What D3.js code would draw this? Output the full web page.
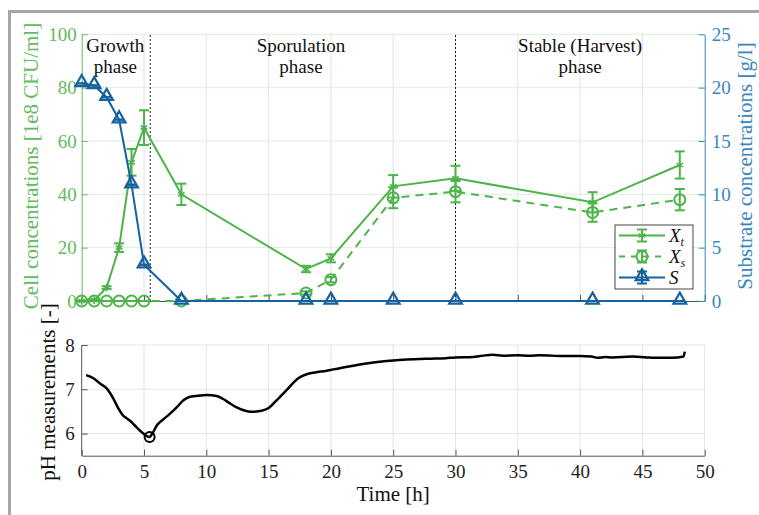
<!DOCTYPE html>
<html>
<head>
<meta charset="utf-8">
<script src="https://cdn.jsdelivr.net/npm/d3@7"></script>
<style>
  body { margin: 0; background: #fff; }
  svg { font-family: "Liberation Serif", "DejaVu Serif", serif; }
</style>
</head>
<body>
<svg id="chart" width="759" height="515"></svg>
<script>
// sampling times [h]
const time = [0, 1, 2, 3, 4, 5, 8, 18, 20, 25, 30, 41, 48];
// total cells Xt and spores Xs [1e8 CFU/ml]
const cellTotal = [0, 0.3, 5, 20, 52, 65, 40, 12, 16, 43, 46, 37, 51];
const cellTotalErr = [0, 0.2, 0.5, 1.6, 5, 6.5, 4, 1.2, 1.5, 4.2, 4.7, 3.8, 5.1];
const spores = [0, 0, 0, 0, 0, 0, 0, 3, 8, 38.7, 41, 33.2, 38];
const sporesErr = [0, 0, 0, 0, 0, 0, 0, 0.6, 1, 3.9, 4, 3.5, 4];
// substrate S [g/l]
const substrate = [20.4, 20.2, 19.1, 17, 10.9, 3.4, 0, 0, 0, 0, 0, 0, 0];
const substrateErr = [0, 0, 0, 0, 0, 0, 0, 0, 0, 0, 0, 0, 0];

// pH trace
const phTime = [0.35, 0.94, 1.47, 2.0, 2.54, 2.94, 3.34, 3.6, 3.88, 4.41, 4.95, 5.43, 5.75, 6.0, 6.55, 7.09,
  7.62, 8.16, 8.69, 9.49, 10.03, 10.83, 11.36, 11.9, 12.43, 13.2, 13.77, 14.3, 14.97, 15.64, 16.44, 17.38,
  18.05, 18.72, 19.65, 20.19, 20.99, 21.79, 22.86, 23.93, 25, 26.07, 27.94, 29.2, 30, 31.4, 32.2, 33.0,
  33.8, 35, 35.9, 36.8, 38.6, 40, 40.9, 41.4, 42, 42.6, 44.2, 45.3, 46.1, 47.4, 48.3, 48.4];
const phValue = [7.32, 7.25, 7.13, 7.02, 6.79, 6.57, 6.4, 6.35, 6.29, 6.14, 6.0, 5.92, 6.04, 6.17, 6.32, 6.45,
  6.59, 6.75, 6.83, 6.86, 6.87, 6.85, 6.78, 6.68, 6.59, 6.51, 6.49, 6.51, 6.57, 6.75, 6.98, 7.25,
  7.34, 7.38, 7.42, 7.45, 7.49, 7.53, 7.58, 7.62, 7.65, 7.67, 7.69, 7.7, 7.72, 7.73, 7.76, 7.78,
  7.76, 7.77, 7.76, 7.77, 7.75, 7.75, 7.74, 7.71, 7.73, 7.72, 7.74, 7.72, 7.71, 7.71, 7.74, 7.85];
const phMin = { t: 5.45, v: 5.92 };

const phases = [
  { x: 2.7, lines: ["Growth", "phase"] },
  { x: 17.6, lines: ["Sporulation", "phase"] },
  { x: 40.0, lines: ["Stable (Harvest)", "phase"] }
];
const phaseBounds = [5.5, 30];

const xTicks = [0, 5, 10, 15, 20, 25, 30, 35, 40, 45, 50];
const cellTicks = [0, 20, 40, 60, 80, 100];
const subTicks = [0, 5, 10, 15, 20, 25];
const phTicks = [6, 7, 8];

const green = "#4db34a";
const greenAxis = "#62bb5c";
const blue = "#15629f";
const blueAxis = "#3a86bf";
const axisGray = "#555";

const svg = d3.select("#chart");

// outer frame (top and left edge)
svg.append("path")
  .attr("d", "M9.5,520 L9.5,11.5 L770,11.5")
  .attr("fill", "none").attr("stroke", "#a6a6a6").attr("stroke-width", 3);

const x = d3.scaleLinear().domain([0, 50]).range([81.7, 704.7]);
const yCell = d3.scaleLinear().domain([0, 100]).range([301, 34.3]);
const ySub = d3.scaleLinear().domain([0, 25]).range([301, 34.3]);
const yPh = d3.scaleLinear().domain([5.5, 8]).range([455.7, 345]);

// d3 axes put a sans-serif font on the group; drop it so the serif font applies
const serifAxis = g => g.attr("font-family", null).attr("font-size", 19);

// ---------- top panel ----------
const topPanel = svg.append("g");

topPanel.append("g").selectAll("line").data(cellTicks).join("line")
  .attr("x1", x(0)).attr("x2", x(50))
  .attr("y1", d => yCell(d)).attr("y2", d => yCell(d))
  .attr("stroke", "#dcefd9").attr("stroke-width", 1);
topPanel.append("g").selectAll("line").data(xTicks.slice(1, -1)).join("line")
  .attr("x1", d => x(d)).attr("x2", d => x(d))
  .attr("y1", yCell(0)).attr("y2", yCell(100))
  .attr("stroke", "#e3e3e3").attr("stroke-width", 1);

// x axis (no labels, inward ticks)
topPanel.append("g")
  .attr("transform", `translate(0,${yCell(0)})`)
  .call(d3.axisTop(x).tickValues(xTicks).tickSize(6).tickSizeOuter(0).tickFormat(""))
  .call(g => g.selectAll("line, path").attr("stroke", axisGray));

// left axis
topPanel.append("g")
  .attr("transform", `translate(${x(0)},0)`)
  .call(d3.axisRight(yCell).tickValues(cellTicks).tickSize(6).tickSizeOuter(0))
  .call(serifAxis)
  .call(g => g.selectAll("line, path").attr("stroke", greenAxis))
  .call(g => g.selectAll("text").attr("x", -5).attr("text-anchor", "end").attr("fill", greenAxis));

// right axis
topPanel.append("g")
  .attr("transform", `translate(${x(50)},0)`)
  .call(d3.axisLeft(ySub).tickValues(subTicks).tickSize(6).tickSizeOuter(0))
  .call(serifAxis)
  .call(g => g.selectAll("line, path").attr("stroke", blueAxis))
  .call(g => g.selectAll("text").attr("x", 7).attr("text-anchor", "start").attr("fill", blueAxis));

// phase separators
topPanel.append("g").selectAll("line").data(phaseBounds).join("line")
  .attr("x1", d => x(d)).attr("x2", d => x(d))
  .attr("y1", yCell(0)).attr("y2", yCell(100))
  .attr("stroke", "#222").attr("stroke-width", 1).attr("stroke-dasharray", "2,2");

// phase titles
phases.forEach(p => {
  const t = topPanel.append("text").attr("x", x(p.x)).attr("y", 52)
    .attr("text-anchor", "middle").attr("font-size", 19).attr("fill", "#111");
  p.lines.forEach((l, i) => t.append("tspan").attr("x", x(p.x)).attr("dy", i ? 20.5 : 0).text(l));
});

const rows = time.map((t, i) => ({
  t, xt: cellTotal[i], xtE: cellTotalErr[i], xs: spores[i], xsE: sporesErr[i],
  s: substrate[i], sE: substrateErr[i]
}));

function errorBars(g, data, yScale, val, err, color) {
  const cap = 5;
  const eb = g.append("g").attr("stroke", color).attr("stroke-width", 2);
  eb.selectAll(".v").data(data).join("line").attr("class", "v")
    .attr("x1", d => x(d.t)).attr("x2", d => x(d.t))
    .attr("y1", d => yScale(val(d) - err(d))).attr("y2", d => yScale(val(d) + err(d)));
  eb.selectAll(".lo").data(data).join("line").attr("class", "lo")
    .attr("x1", d => x(d.t) - cap).attr("x2", d => x(d.t) + cap)
    .attr("y1", d => yScale(val(d) - err(d))).attr("y2", d => yScale(val(d) - err(d)));
  eb.selectAll(".hi").data(data).join("line").attr("class", "hi")
    .attr("x1", d => x(d.t) - cap).attr("x2", d => x(d.t) + cap)
    .attr("y1", d => yScale(val(d) + err(d))).attr("y2", d => yScale(val(d) + err(d)));
}

// Xs (dashed, open circles)
topPanel.append("path").datum(rows)
  .attr("d", d3.line().x(d => x(d.t)).y(d => yCell(d.xs)))
  .attr("fill", "none").attr("stroke", green).attr("stroke-width", 2).attr("stroke-dasharray", "8,6");
errorBars(topPanel, rows, yCell, d => d.xs, d => d.xsE, green);
topPanel.append("g").selectAll("circle").data(rows).join("circle")
  .attr("cx", d => x(d.t)).attr("cy", d => yCell(d.xs)).attr("r", 5.5)
  .attr("fill", "none").attr("stroke", green).attr("stroke-width", 2);

// Xt (solid, asterisk)
topPanel.append("path").datum(rows)
  .attr("d", d3.line().x(d => x(d.t)).y(d => yCell(d.xt)))
  .attr("fill", "none").attr("stroke", green).attr("stroke-width", 2);
errorBars(topPanel, rows, yCell, d => d.xt, d => d.xtE, green);
topPanel.append("g").selectAll("path").data(rows).join("path")
  .attr("transform", d => `translate(${x(d.t)},${yCell(d.xt)})`)
  .attr("d", d3.symbol(d3.symbolAsterisk, 40))
  .attr("fill", "none").attr("stroke", green).attr("stroke-width", 1.6);

// S (solid, open triangles)
topPanel.append("path").datum(rows)
  .attr("d", d3.line().x(d => x(d.t)).y(d => ySub(d.s)))
  .attr("fill", "none").attr("stroke", blue).attr("stroke-width", 2);
errorBars(topPanel, rows, ySub, d => d.s, d => d.sE, blue);
topPanel.append("g").selectAll("path").data(rows).join("path")
  .attr("transform", d => `translate(${x(d.t)},${ySub(d.s) - 1})`)
  .attr("d", d3.symbol(d3.symbolTriangle, 70))
  .attr("fill", "none").attr("stroke", blue).attr("stroke-width", 2.2);

// axis titles
topPanel.append("text")
  .attr("transform", "translate(38,166) rotate(-90)")
  .attr("text-anchor", "middle").attr("font-size", 21).attr("fill", greenAxis)
  .text("Cell concentrations [1e8 CFU/ml]");
topPanel.append("text")
  .attr("transform", "translate(752,166) rotate(-90)")
  .attr("text-anchor", "middle").attr("font-size", 21).attr("fill", blueAxis)
  .text("Substrate concentrations [g/l]");

// legend
const leg = topPanel.append("g").attr("transform", "translate(615,225)");
leg.append("rect").attr("width", 78).attr("height", 64)
  .attr("fill", "#fff").attr("stroke", "#444").attr("stroke-width", 1);
const legItems = [
  { name: "X", sub: "t", color: green, dash: null, sym: "ast" },
  { name: "X", sub: "s", color: green, dash: "6,6", sym: "circ" },
  { name: "S", sub: "", color: blue, dash: null, sym: "tri" }
];
legItems.forEach((it, i) => {
  const cy = 10.5 + i * 21;
  const g = leg.append("g").attr("transform", `translate(0,${cy})`);
  g.append("line").attr("x1", 4).attr("x2", 50).attr("stroke", it.color)
    .attr("stroke-width", 2).attr("stroke-dasharray", it.dash);
  g.append("line").attr("x1", 27).attr("x2", 27).attr("y1", -6).attr("y2", 6)
    .attr("stroke", it.color).attr("stroke-width", 2);
  [-6, 6].forEach(c => g.append("line").attr("x1", 22).attr("x2", 32).attr("y1", c).attr("y2", c)
    .attr("stroke", it.color).attr("stroke-width", 2));
  if (it.sym === "ast") {
    g.append("path").attr("transform", "translate(27,0)").attr("d", d3.symbol(d3.symbolAsterisk, 40))
      .attr("fill", "none").attr("stroke", it.color).attr("stroke-width", 1.6);
  } else if (it.sym === "circ") {
    g.append("circle").attr("cx", 27).attr("r", 5.5).attr("fill", "none")
      .attr("stroke", it.color).attr("stroke-width", 2);
  } else {
    g.append("path").attr("transform", "translate(27,-1)").attr("d", d3.symbol(d3.symbolTriangle, 70))
      .attr("fill", "none").attr("stroke", it.color).attr("stroke-width", 2.2);
  }
  const t = g.append("text").attr("x", 54).attr("y", 6).attr("font-size", 19)
    .attr("font-style", "italic").attr("fill", "#111").text(it.name);
  if (it.sub) t.append("tspan").attr("font-size", 12).attr("dy", 4).text(it.sub);
});

// ---------- bottom panel (pH) ----------
const bot = svg.append("g");

bot.append("g").selectAll("line").data(phTicks).join("line")
  .attr("x1", x(0)).attr("x2", x(50))
  .attr("y1", d => yPh(d)).attr("y2", d => yPh(d))
  .attr("stroke", "#e3e3e3");
bot.append("g").selectAll("line").data(xTicks.slice(1)).join("line")
  .attr("x1", d => x(d)).attr("x2", d => x(d))
  .attr("y1", yPh(5.5)).attr("y2", yPh(8))
  .attr("stroke", "#e3e3e3");

bot.append("g")
  .attr("transform", `translate(0,${yPh(5.5)})`)
  .call(d3.axisTop(x).tickValues(xTicks).tickSize(6).tickSizeOuter(0))
  .call(serifAxis)
  .call(g => g.selectAll("line, path").attr("stroke", axisGray))
  .call(g => g.selectAll("text").attr("y", 22).attr("dy", 0).attr("fill", "#222"));

bot.append("g")
  .attr("transform", `translate(${x(0)},0)`)
  .call(d3.axisRight(yPh).tickValues(phTicks).tickFormat(d3.format("d")).tickSize(6).tickSizeOuter(0))
  .call(serifAxis)
  .call(g => g.select(".domain").attr("d", `M0,${yPh(5.5)}V${yPh(8)}`))
  .call(g => g.selectAll("line, path").attr("stroke", axisGray))
  .call(g => g.selectAll("text").attr("x", -7).attr("text-anchor", "end").attr("fill", "#222"));

bot.append("path").datum(phTime.map((t, i) => [t, phValue[i]]))
  .attr("d", d3.line().x(d => x(d[0])).y(d => yPh(d[1])).curve(d3.curveMonotoneX))
  .attr("fill", "none").attr("stroke", "#000").attr("stroke-width", 2.5);
bot.append("circle").attr("cx", x(phMin.t)).attr("cy", yPh(phMin.v)).attr("r", 5)
  .attr("fill", "none").attr("stroke", "#000").attr("stroke-width", 2);

bot.append("text").attr("x", x(25)).attr("y", 501).attr("text-anchor", "middle")
  .attr("font-size", 21).attr("fill", "#111").text("Time [h]");
bot.append("text")
  .attr("transform", "translate(55,392) rotate(-90)")
  .attr("text-anchor", "middle").attr("font-size", 21).attr("fill", "#111")
  .text("pH measurements [-]");
</script>
</body>
</html>
